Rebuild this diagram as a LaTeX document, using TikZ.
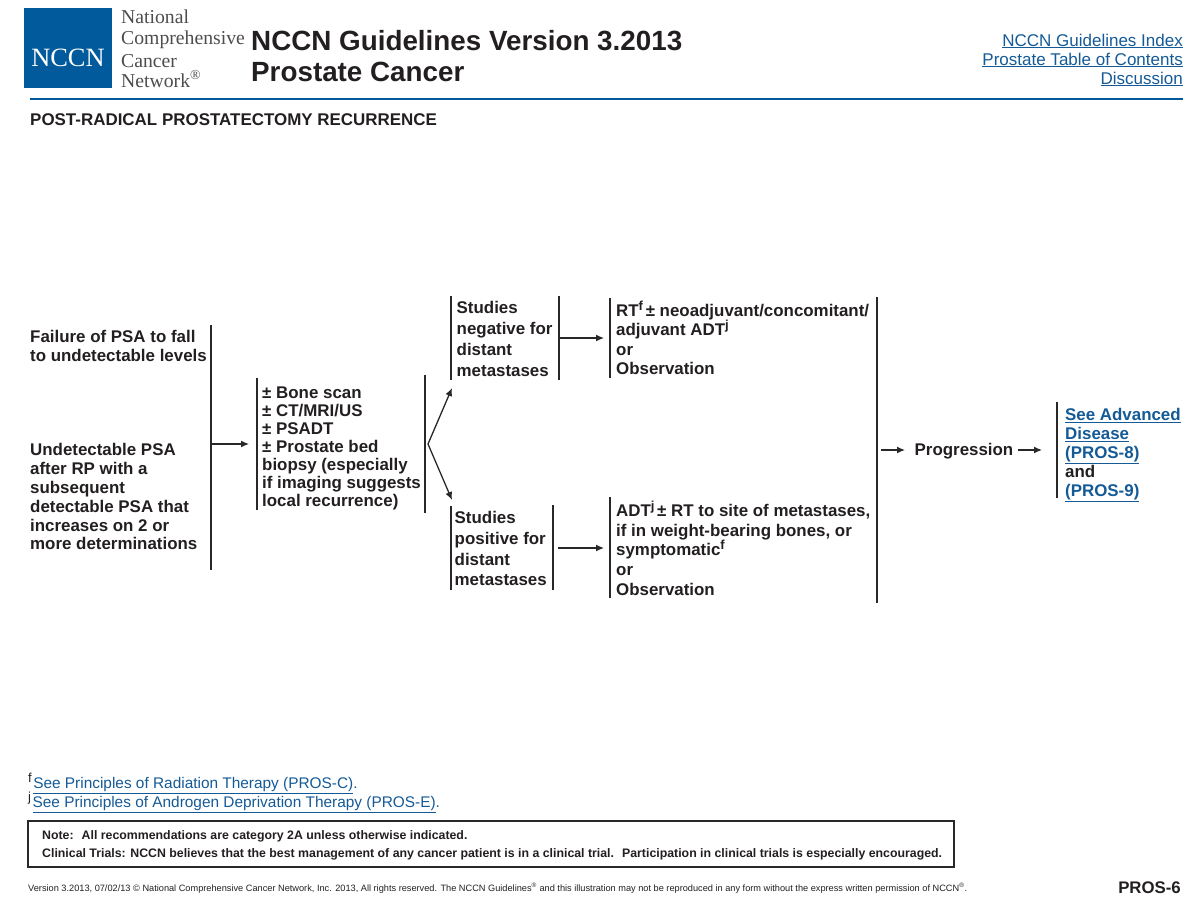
\documentclass[tikz,border=0pt]{standalone}
\usepackage{fontspec}
\setmainfont{Liberation Sans}
\newfontfamily\logofont{Liberation Serif}
\usetikzlibrary{arrows.meta,positioning}
\definecolor{nccnBlue}{RGB}{0,90,156}
\definecolor{nccnLink}{RGB}{20,90,150}
\definecolor{nccnInk}{RGB}{35,31,32}
\definecolor{nccnLine}{RGB}{40,40,40}
\tikzset{
  stepbox/.style={anchor=north west, align=left, inner sep=0pt, text=nccnInk, font=\fontsize{16.9}{18.9}\selectfont\bfseries},
  widebox/.style={stepbox, font=\fontsize{16.9}{20.8}\selectfont\bfseries},
  tightbox/.style={stepbox, font=\fontsize{16.9}{18}\selectfont\bfseries},
  linkline/.style={anchor=east, inner sep=0pt, text=nccnLink, font=\fontsize{17}{19}\selectfont},
  footline/.style={anchor=west, inner sep=0pt, text=nccnInk, font=\fontsize{15.4}{19}\selectfont},
  noteline/.style={anchor=west, inner sep=0pt, text=nccnInk, font=\fontsize{12.33}{15}\selectfont\bfseries},
  logoline/.style={anchor=base west, inner sep=0pt, text=nccnInk!80, font=\logofont\fontsize{19.7}{22}\selectfont},
  titleline/.style={anchor=west, inner sep=0pt, text=nccnInk, font=\fontsize{27.8}{30}\selectfont\bfseries},
  barline/.style={draw=nccnLine, line width=1.3pt},
  flowarrow/.style={-{Latex[length=8pt,width=7pt]}, draw=nccnLine, line width=1.3pt},
}
\newcommand{\linktext}[1]{\textcolor{nccnLink}{\underline{#1}}}
\newcommand{\upmark}[1]{\raisebox{6pt}{\fontsize{13}{13}\selectfont #1}}
\begin{document}
\begin{tikzpicture}[x=1pt,y=-1pt]
  \useasboundingbox (0,0) rectangle (1200,908);

  % header
  \node[fill=nccnBlue, minimum width=88pt, minimum height=80pt, inner sep=0pt] (logo) at (68,48) {};
  \node[inner sep=0pt, text=white, font=\logofont\fontsize{26.4}{26}\selectfont] (logotext) at (68,58) {NCCN};
  \node[logoline] (lognat) at (121,23) {National};
  \node[logoline] (logcomp) at (121,44) {Comprehensive};
  \node[logoline] (logcan) at (121,67) {Cancer};
  \node[logoline] (lognet) at (121,87) {Network\textsuperscript{®}};
  \node[titleline] (title) at (251,41) {NCCN Guidelines Version 3.2013};
  \node[titleline] (cancer) at (251,72) {Prostate Cancer};
  \node[linkline] (index) at (1183,41) {\underline{NCCN Guidelines Index}};
  \node[linkline] (contents) at (1183,60) {\underline{Prostate Table of Contents}};
  \node[linkline] (discuss) at (1183,79) {\underline{Discussion}};
  \draw[nccnBlue, line width=2.8pt] (30,99) coordinate (ruleleft) -- (1183,99) coordinate (ruleright);
  \node[anchor=west, inner sep=0pt, text=nccnInk, font=\fontsize{16.95}{19}\selectfont\bfseries] (page) at (30,119.5) {POST-RADICAL PROSTATECTOMY RECURRENCE};

  % entry conditions
  \node[stepbox] (fail) at (30,330) {Failure of PSA to fall\\to undetectable levels};
  \node[stepbox] (rise) at (30,443) {Undetectable PSA\\after RP with a\\subsequent\\detectable PSA that\\increases on 2 or\\more determinations};
  \draw[barline] (211,325) -- (211,570);
  \coordinate (riseout) at (212,444);

  % workup
  \node[tightbox] (workup) at (262,386.5) {± Bone scan\\± CT/MRI/US\\± PSADT\\± Prostate bed\\biopsy (especially\\if imaging suggests\\local recurrence)};
  \draw[barline] (257,378) -- (257,510);
  \draw[barline] (425,375) -- (425,513);
  \coordinate (workin) at (249,444);
  \coordinate (forkout) at (428,444);
  \draw[flowarrow] (riseout) -- (workin);

  % studies
  \node[widebox] (neg) at (456.5,301.5) {Studies\\negative for\\distant\\metastases};
  \draw[barline] (451,296) -- (451,380);
  \draw[barline] (559,296) -- (559,380);
  \node[widebox] (pos) at (454.5,511) {Studies\\positive for\\distant\\metastases};
  \draw[barline] (451,506) -- (451,590);
  \draw[barline] (553,505) -- (553,590);
  \coordinate (negin) at (452,388);
  \coordinate (posin) at (452,500);
  \draw[flowarrow] (forkout) -- (negin);
  \draw[flowarrow] (forkout) -- (posin);

  % treatment
  \coordinate (negout) at (560,338);
  \coordinate (rtin) at (604,338);
  \coordinate (posout) at (558,548);
  \coordinate (adtin) at (604,548);
  \draw[flowarrow] (negout) -- (rtin);
  \draw[flowarrow] (posout) -- (adtin);
  \node[stepbox, font=\fontsize{16.9}{19.6}\selectfont\bfseries] (rt) at (616,300.5) {RT\upmark{f}\hspace{-2pt} ± neoadjuvant/concomitant/\\adjuvant ADT\upmark{j}\\or\\Observation};
  \draw[barline] (610,298) -- (610,378);
  \node[stepbox, font=\fontsize{16.9}{19.9}\selectfont\bfseries] (adt) at (616,500.5) {ADT\upmark{j}\hspace{-2pt} ± RT to site of metastases,\\if in weight-bearing bones, or\\symptomatic\upmark{f}\\or\\Observation};
  \draw[barline] (610,497) -- (610,598);
  \draw[barline] (877,297) -- (877,603);

  % progression
  \coordinate (progout) at (881,450);
  \coordinate (progin) at (905,450);
  \coordinate (progend) at (1018,450);
  \coordinate (advin) at (1042,450);
  \node[stepbox, anchor=west] (prog) at (914.5,451.5) {Progression};
  \draw[flowarrow] (progout) -- (progin);
  \draw[flowarrow] (progend) -- (advin);
  \node[stepbox] (adv) at (1065,408) {\linktext{See Advanced}\\\linktext{Disease}\\\linktext{(PROS-8)}\\and\\\linktext{(PROS-9)}};
  \draw[barline] (1057,402) -- (1057,498);

  % footnotes
  \node[footline] (footf) at (28,783) {\upmark{f}\hspace{1.5pt}\linktext{See Principles of Radiation Therapy (PROS-C)}\textcolor{nccnLink}{.}};
  \node[footline] (footj) at (28,802) {\upmark{j}\hspace{1.5pt}\linktext{See Principles of Androgen Deprivation Therapy (PROS-E)}\textcolor{nccnLink}{.}};
  \node[draw=nccnLine, line width=1.6pt, minimum width=926pt, minimum height=46pt, inner sep=0pt] (notebox) at (491,844) {};
  \node[noteline] (note) at (42,836) {Note:~ All recommendations are category 2A unless otherwise indicated.};
  \node[noteline] (trial) at (42,854) {Clinical Trials: NCCN believes that the best management of any cancer patient is in a clinical trial.~ Participation in clinical trials is especially encouraged.};
  \node[anchor=west, inner sep=0pt, text=nccnInk, font=\fontsize{9.21}{10}\selectfont] (version) at (28,888.5) {Version 3.2013, 07/02/13 © National Comprehensive Cancer Network, Inc. 2013, All rights reserved. The NCCN Guidelines\textsuperscript{®} and this illustration may not be reproduced in any form without the express written permission of NCCN\textsuperscript{®}.};
  \node[anchor=east, inner sep=0pt, text=nccnInk, font=\fontsize{16.8}{18}\selectfont\bfseries] (pros) at (1181,887.5) {PROS-6};
\end{tikzpicture}
\end{document}
